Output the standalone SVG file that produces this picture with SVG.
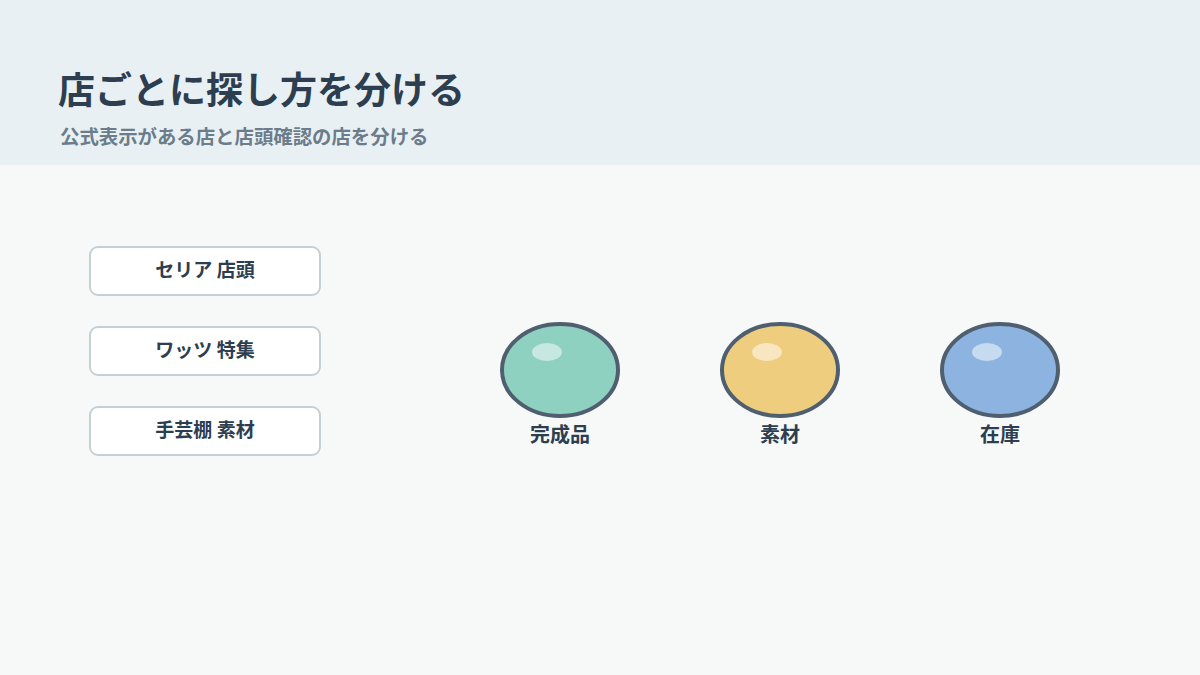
<svg xmlns="http://www.w3.org/2000/svg" width="1200" height="675" viewBox="0 0 1200 675">
<style>
.t{font-family:"Noto Sans CJK JP","Noto Sans",sans-serif;font-weight:bold}
.title{font-size:37px;fill:#2c3e50}
.sub{font-size:19.4px;fill:#6b7c8a}
.box{fill:#ffffff;stroke:#c5d0d5;stroke-width:2}
.bt{font-size:19px;fill:#2c3e50;text-anchor:middle}
.ball{stroke:#4f5f6f;stroke-width:4}
.hl{fill:#ffffff;opacity:0.5}
.lb{font-size:20px;fill:#2c3e50;text-anchor:middle}
</style>
<rect x="0" y="0" width="1200" height="675" fill="#f7f9f9"/>
<rect x="0" y="0" width="1200" height="165" fill="#e9f0f3"/>
<text class="t title" x="58" y="104">店ごとに探し方を分ける</text>
<text class="t sub" x="60" y="144">公式表示がある店と店頭確認の店を分ける</text>
<g id="connectors"></g>
<g id="node-seria"><rect class="box" x="90" y="247" width="230" height="48" rx="8"/><text class="t bt" x="205" y="277">セリア 店頭</text></g>
<g id="node-watts"><rect class="box" x="90" y="327" width="230" height="48" rx="8"/><text class="t bt" x="205" y="357">ワッツ 特集</text></g>
<g id="node-shugei"><rect class="box" x="90" y="407" width="230" height="48" rx="8"/><text class="t bt" x="205" y="437">手芸棚 素材</text></g>
<g id="node-kansei"><ellipse class="ball" cx="560" cy="370" rx="58" ry="46" fill="#8ed1c0"/><ellipse class="hl" cx="547" cy="352" rx="15" ry="9"/><text class="t lb" x="560" y="442">完成品</text></g>
<g id="node-sozai"><ellipse class="ball" cx="780" cy="370" rx="58" ry="46" fill="#efcd7e"/><ellipse class="hl" cx="767" cy="352" rx="15" ry="9"/><text class="t lb" x="780" y="442">素材</text></g>
<g id="node-zaiko"><ellipse class="ball" cx="1000" cy="370" rx="58" ry="46" fill="#8db4e0"/><ellipse class="hl" cx="987" cy="352" rx="15" ry="9"/><text class="t lb" x="1000" y="442">在庫</text></g>
</svg>
